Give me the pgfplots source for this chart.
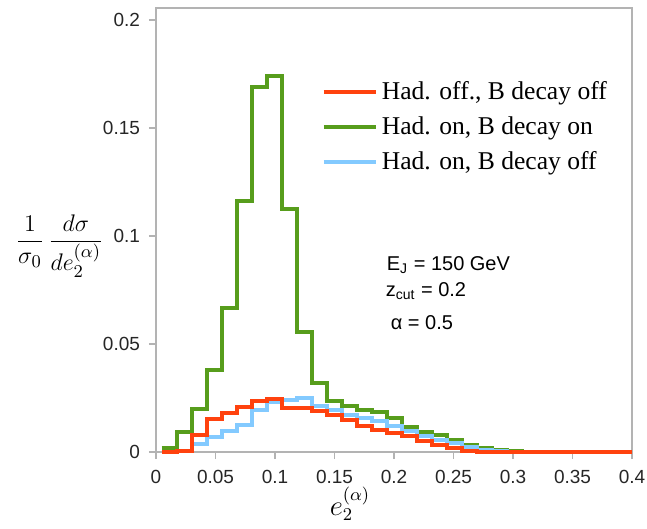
\documentclass[border=0pt]{standalone}
\usepackage{fontspec}
\setmainfont{Liberation Sans}
\newfontfamily\timesfont{Liberation Serif}
\usepackage{pgfplots}
\pgfplotsset{compat=1.18}
\usepackage{pgfplotstable}
\definecolor{cred}{HTML}{FF420E}
\definecolor{cgreen}{HTML}{579D1C}
\definecolor{cblue}{HTML}{83CAFF}
\definecolor{axgray}{HTML}{B3B3B3}

\pgfplotstableread{
x y
0.0048 0.0017
0.0174 0.0094
0.0301 0.0200
0.0427 0.0380
0.0553 0.0665
0.0680 0.1160
0.0806 0.1690
0.0932 0.1740
0.1058 0.1124
0.1185 0.0557
0.1311 0.0318
0.1437 0.0238
0.1564 0.0213
0.1690 0.0194
0.1816 0.0186
0.1943 0.0156
0.2069 0.0117
0.2195 0.0094
0.2321 0.0079
0.2448 0.0056
0.2574 0.0032
0.2700 0.0017
0.2827 0.0009
0.2953 0.0003
0.3079 0.0000
0.4000 0.0000
}\greentab

\pgfplotstableread{
x y
0.0048 0.0000
0.0174 0.0003
0.0301 0.0036
0.0427 0.0068
0.0553 0.0098
0.0680 0.0125
0.0806 0.0195
0.0932 0.0233
0.1058 0.0242
0.1185 0.0249
0.1311 0.0215
0.1437 0.0195
0.1564 0.0172
0.1690 0.0156
0.1816 0.0142
0.1943 0.0122
0.2069 0.0097
0.2195 0.0072
0.2321 0.0056
0.2448 0.0040
0.2574 0.0025
0.2700 0.0010
0.2827 0.0003
0.2953 0.0000
0.4000 0.0000
}\bluetab

\pgfplotstableread{
x y
0.0048 0.0000
0.0174 0.0005
0.0301 0.0080
0.0427 0.0152
0.0553 0.0182
0.0680 0.0210
0.0806 0.0235
0.0932 0.0245
0.1058 0.0205
0.1185 0.0202
0.1311 0.0192
0.1437 0.0170
0.1564 0.0148
0.1690 0.0122
0.1816 0.0100
0.1943 0.0088
0.2069 0.0075
0.2195 0.0050
0.2321 0.0032
0.2448 0.0017
0.2574 0.0006
0.2700 0.0000
0.4000 0.0000
}\redtab

\begin{document}
\begin{tikzpicture}
\begin{axis}[
  scale only axis,
  width=238pt, height=222pt,
  xmin=0, xmax=0.4, ymin=0, ymax=0.2056,
  xtick={0,0.05,0.1,0.15,0.2,0.25,0.3,0.35,0.4},
  xticklabels={0,0.05,0.1,0.15,0.2,0.25,0.3,0.35,0.4},
  ytick={0,0.05,0.1,0.15,0.2},
  yticklabels={0,0.05,0.1,0.15,0.2},
  xtick pos=lower, ytick pos=left,
  tick align=outside,
  major tick length=3.5pt,
  axis line style={draw=axgray, line width=0.6pt},
  tick style={draw=axgray, line width=0.6pt},
  tick label style={font=\fontsize{9.5}{11}\selectfont, text=black!85},
  xticklabel style={yshift=-2pt},
  yticklabel style={xshift=-1pt},
  clip=false,
  legend style={at={(axis cs:0.1390,0.1505)}, anchor=west, draw=none, fill=none,
    font=\timesfont\fontsize{12.8}{14}\selectfont, row sep=3pt, inner sep=0pt},
  legend cell align=left,
  legend image code/.code={\draw[#1] (0pt,0pt) -- (21.5pt,0pt); \path (0pt,0pt) -- (26pt,0pt);},
]
\addlegendimage{cred, line width=2pt}
\addlegendentry{Had. off., B decay off}
\addlegendimage{cgreen, line width=2pt}
\addlegendentry{Had. on, B decay on}
\addlegendimage{cblue, line width=2pt}
\addlegendentry{Had. on, B decay off}

\addplot[const plot, cgreen, line width=2pt, forget plot] table {\greentab};
\addplot[const plot, cblue, line width=2pt, forget plot] table {\bluetab};
\addplot[const plot, cred, line width=2pt, forget plot] table {\redtab};

\node[anchor=base west, inner sep=0, font=\fontsize{10}{12}\selectfont] at (axis cs:0.1937,0.0839) {E\textsubscript{J} = 150 GeV};
\node[anchor=base west, inner sep=0, font=\fontsize{10}{12}\selectfont] at (axis cs:0.1928,0.0722) {z\textsubscript{cut} = 0.2};
\node[anchor=base west, inner sep=0, font=\fontsize{10}{12}\selectfont] at (axis cs:0.1970,0.0568) {α = 0.5};

\node[inner sep=0, font=\fontsize{13}{15}\selectfont] at (axis cs:-0.0810,0.0955)
  {$\displaystyle \frac{1}{\sigma_0}\,\frac{d\sigma}{de_2^{(\alpha)}}$};
\node[anchor=north, inner sep=0, font=\fontsize{13.5}{16}\selectfont] at (axis cs:0.163,0) [yshift=-17.5pt] {$e_2^{(\alpha)}$};

\coordinate (SW) at (rel axis cs:0,0);
\coordinate (NE) at (rel axis cs:1,1);
\end{axis}
\pgfresetboundingbox
\path[use as bounding box] ([shift={(-78pt,-38.5pt)}]SW) rectangle ([shift={(7.5pt,4pt)}]NE);
\end{tikzpicture}
\end{document}
